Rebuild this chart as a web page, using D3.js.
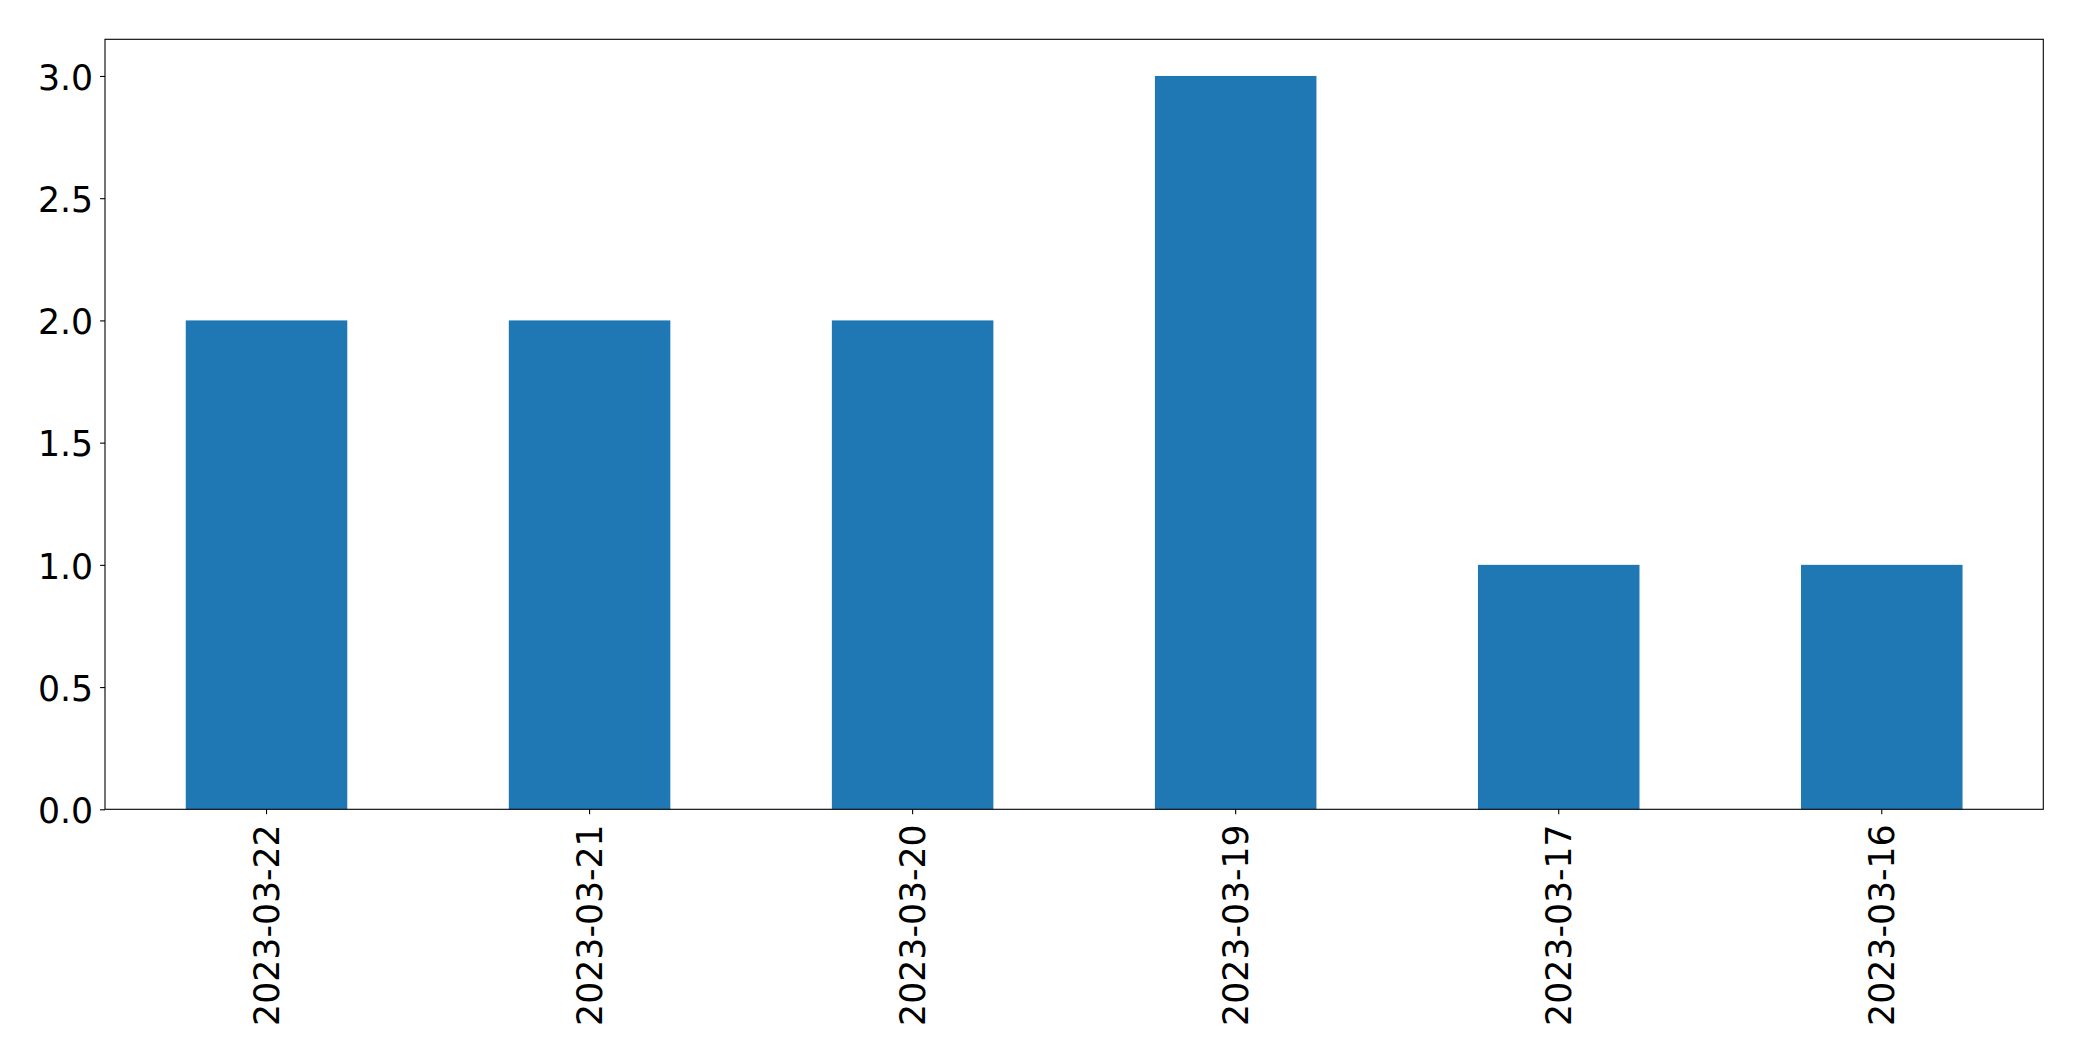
<!DOCTYPE html>
<html><head><meta charset="utf-8">
<script src="https://cdn.jsdelivr.net/npm/d3@7"></script>
<style>body{margin:0;background:#fff}svg{display:block}</style>
</head><body>
<script>
const categories = ["2023-03-22","2023-03-21","2023-03-20","2023-03-19","2023-03-17","2023-03-16"];
const values = [2, 2, 2, 3, 1, 1];
const yTicks = [0, 0.5, 1.0, 1.5, 2.0, 2.5, 3.0];

const W = 2082, H = 1061;
const m = {left:105, right:2043.3, top:39.3, bottom:809.3};
const svg = d3.select("body").append("svg").attr("width", W).attr("height", H);

const x = d3.scaleBand().domain(categories).range([m.left, m.right]).paddingInner(0.5).paddingOuter(0.25);
const y = d3.scaleLinear().domain([0, 3.15]).range([m.bottom, m.top]);

svg.append("g").selectAll("rect").data(values).join("rect")
  .attr("x", (d,i) => x(categories[i]))
  .attr("width", x.bandwidth())
  .attr("y", d => y(d))
  .attr("height", d => y(0) - y(d))
  .attr("fill", "#1f77b4");

const font = "DejaVu Sans";
const fs = 34.7;

const xa = svg.append("g").attr("transform", `translate(0,${m.bottom})`)
  .call(d3.axisBottom(x).tickSize(4.9).tickPadding(0).tickSizeOuter(0));
xa.select(".domain").remove();
xa.selectAll("line").attr("stroke", "#000").attr("stroke-width", 1.1);
xa.selectAll("text")
  .attr("font-family", font).attr("font-size", fs).attr("fill", "#000")
  .attr("transform", "rotate(-90)")
  .attr("text-anchor", "end")
  .attr("x", -15).attr("y", 0).attr("dy", "0.35em");

const ya = svg.append("g").attr("transform", `translate(${m.left},0)`)
  .call(d3.axisLeft(y).tickValues(yTicks).tickFormat(d3.format(".1f")).tickSize(4.9).tickPadding(7).tickSizeOuter(0));
ya.select(".domain").remove();
ya.selectAll("line").attr("stroke", "#000").attr("stroke-width", 1.1);
ya.selectAll("text").attr("font-family", font).attr("font-size", fs).attr("fill", "#000").attr("dy", "0.38em");

svg.append("rect").attr("x", m.left).attr("y", m.top)
  .attr("width", m.right - m.left).attr("height", m.bottom - m.top)
  .attr("fill", "none").attr("stroke", "#000").attr("stroke-width", 1.1);
</script>
</body></html>
